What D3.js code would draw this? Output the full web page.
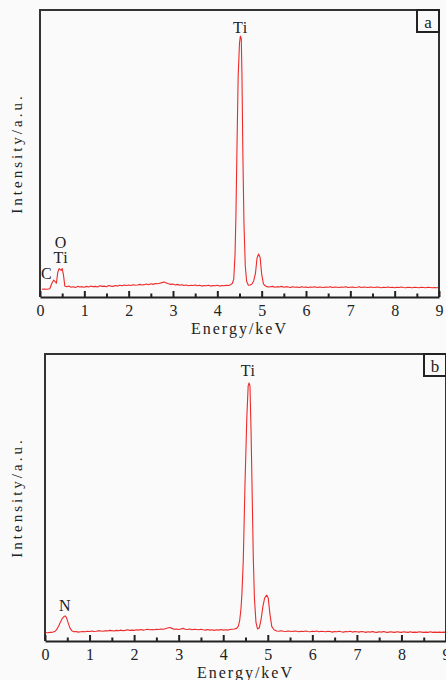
<!DOCTYPE html>
<html>
<head>
<meta charset="utf-8">
<script src="https://cdn.jsdelivr.net/npm/d3@7"></script>
<style>
  html, body { margin: 0; padding: 0; background: #fafafa; }
  svg { display: block; }
  text { font-family: "Liberation Serif", "Times New Roman", serif; fill: #222; }
</style>
</head>
<body>
<svg id="vis" width="446" height="680"></svg>
<script>
// EDS spectra, [energy keV, intensity a.u.]
const spectrumA = [
  [0.04,27],[0.10,28],[0.16,27],[0.22,29],[0.27,49],[0.31,59],[0.34,54],[0.37,48],[0.40,85],[0.43,99],
  [0.46,95],[0.48,93],[0.50,99],[0.53,76],[0.56,38],[0.60,36],[0.65,38],[0.70,34],[0.75,36],[0.80,33],
  [0.85,37],[0.90,35],[0.95,36],[1.00,34],[1.05,37],[1.10,35],[1.15,38],[1.20,36],[1.25,37],[1.30,35],
  [1.35,39],[1.40,37],[1.45,38],[1.50,36],[1.55,40],[1.60,38],[1.65,37],[1.70,40],[1.75,38],[1.80,41],
  [1.85,39],[1.90,42],[1.95,40],[2.00,42],[2.05,40],[2.10,43],[2.15,41],[2.20,42],[2.25,44],[2.30,42],
  [2.35,43],[2.40,45],[2.45,43],[2.50,46],[2.55,44],[2.60,47],[2.65,46],[2.70,48],[2.75,50],[2.80,52],
  [2.85,49],[2.90,46],[2.95,44],[3.00,45],[3.05,42],[3.10,44],[3.15,41],[3.20,43],[3.25,40],[3.30,42],
  [3.35,39],[3.40,41],[3.45,40],[3.50,42],[3.55,39],[3.60,41],[3.65,38],[3.70,40],[3.75,39],[3.80,41],
  [3.85,38],[3.90,40],[3.95,39],[4.00,41],[4.05,38],[4.10,40],[4.15,39],[4.20,41],[4.25,40],[4.30,43],
  [4.34,48],[4.37,62],[4.40,150],[4.42,290],[4.445,540],[4.47,770],[4.50,885],[4.52,909],[4.54,900],[4.555,780],
  [4.575,510],[4.60,260],[4.63,110],[4.66,55],[4.70,41],[4.74,42],[4.78,45],[4.82,56],[4.86,82],[4.895,135],
  [4.93,150],[4.965,138],[5.00,80],[5.04,46],[5.08,39],[5.12,36],[5.17,35],[5.25,37],[5.30,34],[5.35,36],
  [5.40,35],[5.45,37],[5.50,34],[5.55,36],[5.60,35],[5.65,33],[5.70,36],[5.75,34],[5.80,35],[5.85,33],
  [5.90,36],[5.95,34],[6.00,35],[6.05,33],[6.10,35],[6.15,34],[6.20,36],[6.25,33],[6.30,35],[6.35,34],
  [6.40,33],[6.45,35],[6.50,34],[6.55,36],[6.60,33],[6.65,35],[6.70,34],[6.75,33],[6.80,35],[6.85,34],
  [6.90,36],[6.95,33],[7.00,34],[7.05,35],[7.10,33],[7.15,34],[7.20,36],[7.25,33],[7.30,35],[7.35,34],
  [7.40,33],[7.45,35],[7.50,34],[7.55,33],[7.60,35],[7.65,34],[7.70,32],[7.75,34],[7.80,33],[7.85,35],
  [7.90,33],[7.95,34],[8.00,32],[8.05,34],[8.10,33],[8.15,35],[8.20,33],[8.25,32],[8.30,34],[8.35,33],
  [8.40,32],[8.45,34],[8.50,33],[8.55,32],[8.60,34],[8.65,33],[8.70,32],[8.75,34],[8.80,33],[8.85,32],
  [8.90,33],[8.95,32],[9.00,33]
];

const spectrumB = [
  [0.00,29],[0.06,29],[0.12,30],[0.18,31],[0.23,34],[0.27,42],[0.31,53],[0.35,67],[0.39,79],[0.43,86],
  [0.46,87],[0.49,78],[0.52,63],[0.56,45],[0.60,36],[0.65,32],[0.70,33],[0.75,31],[0.80,32],[0.85,33],
  [0.90,32],[0.95,34],[1.00,33],[1.05,35],[1.10,33],[1.15,34],[1.20,36],[1.25,35],[1.30,34],[1.35,36],
  [1.40,35],[1.45,37],[1.50,36],[1.55,35],[1.60,37],[1.65,36],[1.70,38],[1.75,36],[1.80,37],[1.85,39],
  [1.90,37],[1.95,38],[2.00,37],[2.05,39],[2.10,38],[2.15,40],[2.20,38],[2.25,39],[2.30,41],[2.35,39],
  [2.40,40],[2.45,39],[2.50,41],[2.55,40],[2.60,42],[2.65,41],[2.70,43],[2.75,45],[2.80,47],[2.85,44],
  [2.90,41],[2.95,42],[3.00,40],[3.05,42],[3.10,44],[3.15,41],[3.20,40],[3.25,42],[3.30,39],[3.35,41],
  [3.40,40],[3.45,39],[3.50,41],[3.55,39],[3.60,38],[3.65,40],[3.70,38],[3.75,39],[3.80,37],[3.85,39],
  [3.90,38],[3.95,40],[4.00,38],[4.05,39],[4.10,38],[4.15,40],[4.20,41],[4.25,42],[4.30,44],[4.34,52],
  [4.37,72],[4.40,115],[4.42,165],[4.45,280],[4.49,555],[4.53,780],[4.56,889],[4.58,899],[4.60,889],[4.625,730],
  [4.65,510],[4.675,290],[4.70,150],[4.735,65],[4.77,42],[4.81,46],[4.85,75],[4.89,120],[4.93,150],[4.975,160],
  [5.01,150],[5.05,92],[5.09,50],[5.14,39],[5.20,35],[5.25,34],[5.30,36],[5.35,34],[5.40,33],[5.45,35],
  [5.50,34],[5.55,33],[5.60,35],[5.65,34],[5.70,32],[5.75,34],[5.80,33],[5.85,35],[5.90,33],[5.95,32],
  [6.00,34],[6.05,33],[6.10,35],[6.15,32],[6.20,34],[6.25,33],[6.30,32],[6.35,34],[6.40,33],[6.45,31],
  [6.50,33],[6.55,32],[6.60,34],[6.65,32],[6.70,31],[6.75,33],[6.80,32],[6.85,34],[6.90,31],[6.95,33],
  [7.00,32],[7.05,31],[7.10,33],[7.15,32],[7.20,30],[7.25,32],[7.30,31],[7.35,33],[7.40,31],[7.45,30],
  [7.50,32],[7.55,31],[7.60,33],[7.65,31],[7.70,30],[7.75,32],[7.80,31],[7.85,30],[7.90,32],[7.95,31],
  [8.00,30],[8.05,32],[8.10,31],[8.15,30],[8.20,32],[8.25,30],[8.30,31],[8.35,30],[8.40,32],[8.45,31],
  [8.50,30],[8.55,31],[8.60,30],[8.65,32],[8.70,30],[8.75,31],[8.80,30],[8.85,31],[8.90,30],[8.95,31],
  [9.00,30]
];

// peak labels: text, energy, intensity (text baseline)
const peaksA = [
  { text: "Ti", e: 4.52, v: 920 },
  { text: "O", e: 0.47, v: 172 },
  { text: "Ti", e: 0.47, v: 120 },
  { text: "C", e: 0.15, v: 63 }
];
const peaksB = [
  { text: "Ti", e: 4.56, v: 923 },
  { text: "N", e: 0.45, v: 105 }
];

const majorTicks = [0, 1, 2, 3, 4, 5, 6, 7, 8, 9];
const minorTicks = [0.5, 1.5, 2.5, 3.5, 4.5, 5.5, 6.5, 7.5, 8.5];
const energyDomain = [0, 9];
const intensityDomain = [0, 1000];

const xTitle = "Energy/keV";
const yTitle = "Intensity/a.u.";

const svg = d3.select("#vis");
const red = "#ee2a2a";

function drawPanel(box, spectrum, peaks, tag) {
  const g = svg.append("g");

  const x = d3.scaleLinear().domain(energyDomain).range([box.left, box.right]);
  const y = d3.scaleLinear().domain(intensityDomain).range([box.bottom, box.top]);

  // spectrum line
  const line = d3.line()
    .x(d => x(d[0]))
    .y(d => y(d[1]));

  g.append("path")
    .datum(spectrum)
    .attr("fill", "none")
    .attr("stroke", red)
    .attr("stroke-width", 1.1)
    .attr("stroke-linejoin", "round")
    .attr("d", line);

  // frame: left, top, right
  g.append("path")
    .attr("d", `M${box.left},${box.bottom} V${box.top} H${box.right} V${box.bottom}`)
    .attr("fill", "none")
    .attr("stroke", "#333")
    .attr("stroke-width", 2);

  // bottom axis, ticks pointing inward
  const axis = g.append("g")
    .attr("transform", `translate(0,${box.bottom})`)
    .call(d3.axisBottom(x).tickValues(majorTicks).tickFormat(d3.format("d"))
      .tickSizeInner(-6).tickSizeOuter(0).tickPadding(8));
  axis.select(".domain").attr("stroke", "#222").attr("stroke-width", 2.2);
  axis.selectAll(".tick line").attr("stroke", "#222").attr("stroke-width", 2);
  axis.selectAll(".tick text")
    .attr("font-size", 16)
    .attr("font-family", "'Liberation Serif', serif")
    .attr("fill", "#222");

  const minor = g.append("g")
    .attr("transform", `translate(0,${box.bottom})`)
    .call(d3.axisBottom(x).tickValues(minorTicks).tickFormat("")
      .tickSizeInner(-3.5).tickSizeOuter(0));
  minor.select(".domain").remove();
  minor.selectAll(".tick line").attr("stroke", "#222").attr("stroke-width", 2);

  // axis titles
  g.append("text")
    .attr("x", (box.left + box.right) / 2)
    .attr("y", box.bottom + 37)
    .attr("text-anchor", "middle")
    .attr("font-size", 16)
    .attr("letter-spacing", 2)
    .text(xTitle);

  g.append("text")
    .attr("transform", `translate(17,${(box.top + box.bottom) / 2}) rotate(-90)`)
    .attr("text-anchor", "middle")
    .attr("dominant-baseline", "central")
    .attr("font-size", 15)
    .attr("letter-spacing", 3)
    .text(yTitle);

  // peak labels
  g.selectAll(".peak")
    .data(peaks)
    .join("text")
    .attr("class", "peak")
    .attr("x", d => x(d.e))
    .attr("y", d => y(d.v))
    .attr("text-anchor", "middle")
    .attr("font-size", 16)
    .attr("letter-spacing", 0.5)
    .text(d => d.text);

  // panel tag box in the corner
  const s = 22;
  g.append("rect")
    .attr("x", box.right - s)
    .attr("y", box.top)
    .attr("width", s)
    .attr("height", s)
    .attr("fill", "none")
    .attr("stroke", "#222")
    .attr("stroke-width", 2);
  g.append("text")
    .attr("x", box.right - s / 2)
    .attr("y", box.top + s / 2 + 1)
    .attr("text-anchor", "middle")
    .attr("dominant-baseline", "central")
    .attr("font-size", 17)
    .text(tag);
}

drawPanel({ left: 40, right: 439, top: 10, bottom: 297 }, spectrumA, peaksA, "a");
drawPanel({ left: 45, right: 446, top: 354, bottom: 641 }, spectrumB, peaksB, "b");
</script>
</body>
</html>
